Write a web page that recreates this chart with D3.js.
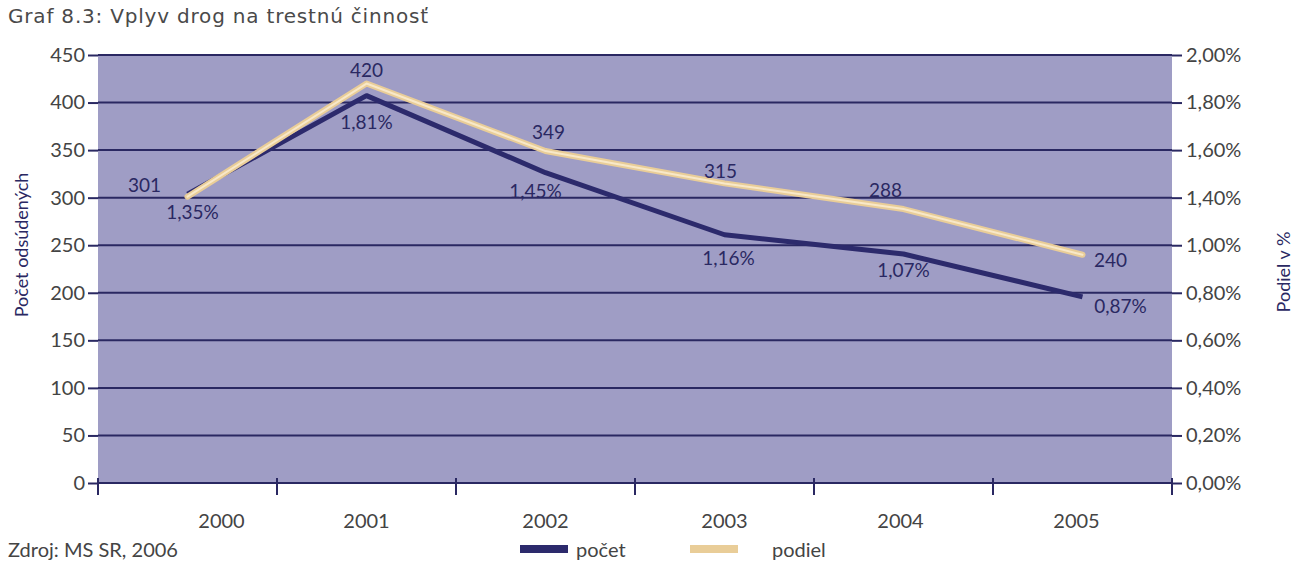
<!DOCTYPE html>
<html>
<head>
<meta charset="utf-8">
<script src="https://cdn.jsdelivr.net/npm/d3@7/dist/d3.min.js"></script>
<style>
  html, body { margin: 0; padding: 0; background: #ffffff; }
  svg { display: block; font-family: "Lato", "Noto Sans", sans-serif; }
</style>
</head>
<body>
<svg id="chart" width="1296" height="567"></svg>
<script>
// Data
const years = ["2000", "2001", "2002", "2003", "2004", "2005"];
const pocet = [301, 420, 349, 315, 288, 240];            // count of convicted (left axis)
const podiel = [1.35, 1.81, 1.45, 1.16, 1.07, 0.87];     // share in % (right axis)
const leftTicks = [0, 50, 100, 150, 200, 250, 300, 350, 400, 450];
const rightTickLabels = ["0,00%", "0,20%", "0,40%", "0,60%", "0,80%", "1,00%", "1,40%", "1,60%", "1,80%", "2,00%"];

const svg = d3.select("#chart");
const m = { left: 98, right: 1172, top: 55, bottom: 483 };

const x = d3.scaleBand().domain(years).range([m.left, m.right]);
const yL = d3.scaleLinear().domain([0, 450]).range([m.bottom, m.top]);
const yR = d3.scaleLinear().domain([0, 2]).range([m.bottom, m.top]);
const cx = d => x(d) + x.bandwidth() / 2;

const navy = "#2a2862";
const textGray = "#444444";

// Title
svg.append("text").attr("x", 8).attr("y", 23)
  .attr("font-size", 20).attr("fill", "#4a4a4a")
  .attr("letter-spacing", 0.8)
  .attr("font-family", "'DejaVu Sans', sans-serif")
  .text("Graf 8.3: Vplyv drog na trestnú činnosť");

// Plot background
svg.append("rect")
  .attr("x", m.left).attr("y", m.top)
  .attr("width", m.right - m.left).attr("height", m.bottom - m.top)
  .attr("fill", "#9f9dc5");

// Horizontal gridlines
svg.append("g").selectAll("line").data(leftTicks.filter(t => t > 0)).join("line")
  .attr("x1", m.left).attr("x2", m.right)
  .attr("y1", d => yL(d)).attr("y2", d => yL(d))
  .attr("stroke", navy).attr("stroke-width", 2);

// Left axis
const gL = svg.append("g").attr("transform", `translate(${m.left},0)`)
  .call(d3.axisLeft(yL).tickValues(leftTicks).tickSize(10).tickPadding(3));
gL.select(".domain").remove();
gL.selectAll(".tick line").attr("stroke", navy).attr("stroke-width", 2);
gL.selectAll(".tick text").attr("font-size", 20).attr("fill", textGray)
  .attr("font-family", "Lato, 'Noto Sans', sans-serif");

// Right axis (labels placed on the shared gridlines)
const gR = svg.append("g").attr("transform", `translate(${m.right},0)`)
  .call(d3.axisRight(yL).tickValues(leftTicks).tickSize(10).tickPadding(4)
    .tickFormat((d, i) => rightTickLabels[i]));
gR.select(".domain").remove();
gR.selectAll(".tick line").attr("stroke", navy).attr("stroke-width", 2);
gR.selectAll(".tick text").attr("font-size", 20).attr("fill", textGray)
  .attr("font-family", "Lato, 'Noto Sans', sans-serif");

// Bottom axis with ticks at category boundaries
svg.append("line")
  .attr("x1", m.left).attr("x2", m.right)
  .attr("y1", m.bottom).attr("y2", m.bottom)
  .attr("stroke", navy).attr("stroke-width", 2);
const bounds = years.map(d => x(d)).concat([m.right]);
svg.append("g").selectAll("line").data(bounds).join("line")
  .attr("x1", d => d).attr("x2", d => d)
  .attr("y1", m.bottom - 5).attr("y2", m.bottom + 12)
  .attr("stroke", navy).attr("stroke-width", 2);
const yearShift = [34, 0, 0, 0, -3, -6];
svg.append("g").selectAll("text").data(years).join("text")
  .attr("x", (d, i) => cx(d) + yearShift[i]).attr("y", 528)
  .attr("text-anchor", "middle").attr("font-size", 20).attr("fill", textGray)
  .text(d => d);

// Axis titles
svg.append("text")
  .attr("transform", "translate(28,245) rotate(-90)")
  .attr("text-anchor", "middle").attr("font-size", 18).attr("fill", navy)
  .text("Počet odsúdených");
svg.append("text")
  .attr("transform", "translate(1290,272) rotate(-90)")
  .attr("text-anchor", "middle").attr("font-size", 18).attr("fill", navy)
  .text("Podiel v %");

// Lines
const lineL = d3.line().x((d, i) => cx(years[i])).y(d => yL(d));
const lineR = d3.line().x((d, i) => cx(years[i])).y(d => yR(d));

svg.append("path").datum(podiel).attr("d", lineR)
  .attr("fill", "none").attr("stroke", "#2c2a6c").attr("stroke-width", 5)
  .attr("stroke-linejoin", "round");

svg.append("path").datum(pocet).attr("d", lineL)
  .attr("fill", "none").attr("stroke", "#e9cd98").attr("stroke-width", 6)
  .attr("stroke-linejoin", "round").attr("stroke-linecap", "round");
svg.append("path").datum(pocet).attr("d", lineL)
  .attr("fill", "none").attr("stroke", "#f8e8c8").attr("stroke-width", 2)
  .attr("stroke-linejoin", "round").attr("stroke-linecap", "round");

// Value labels
const fmtPct = v => v.toFixed(2).replace(".", ",") + "%";
const pocetOffsets = [[-43, -5], [0, -7], [3, -12], [-4, -5], [-18, -12], [28, 12]];
const podielOffsets = [[5, 25], [0, 33], [-10, 25], [4, 30], [0, 23], [38, 16]];

svg.append("g").selectAll("text").data(pocet).join("text")
  .attr("x", (d, i) => cx(years[i]) + pocetOffsets[i][0])
  .attr("y", (d, i) => yL(d) + pocetOffsets[i][1])
  .attr("text-anchor", "middle").attr("font-size", 19).attr("fill", navy)
  .text(d => d);

svg.append("g").selectAll("text").data(podiel).join("text")
  .attr("x", (d, i) => cx(years[i]) + podielOffsets[i][0])
  .attr("y", (d, i) => yR(d) + podielOffsets[i][1])
  .attr("text-anchor", "middle").attr("font-size", 19).attr("fill", navy)
  .text(d => fmtPct(d));

// Source
svg.append("text").attr("x", 8).attr("y", 557)
  .attr("font-size", 20).attr("fill", textGray)
  .text("Zdroj: MS SR, 2006");

// Legend
const legend = [
  { name: "počet", color: "#2c2a6c", x: 520, tx: 576 },
  { name: "podiel", color: "#e9cd98", x: 690, tx: 772 }
];
const lg = svg.append("g");
lg.selectAll("rect").data(legend).join("rect")
  .attr("x", d => d.x).attr("y", 545).attr("width", 48).attr("height", 8)
  .attr("fill", d => d.color);
lg.selectAll("text").data(legend).join("text")
  .attr("x", d => d.tx).attr("y", 557)
  .attr("font-size", 20).attr("fill", textGray)
  .text(d => d.name);
</script>
</body>
</html>
